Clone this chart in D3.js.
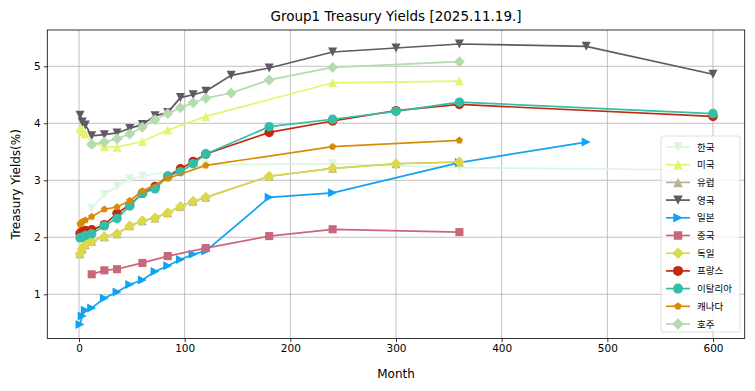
<!DOCTYPE html>
<html><head><meta charset="utf-8">
<script src="https://cdn.jsdelivr.net/npm/d3@7"></script>
<style>body{margin:0;background:#fff}svg{display:block}</style>
</head><body>
<script>
// ---- data ----
const seriesNames = ["한국","미국","유럽","영국","일본","중국","독일","프랑스","이탈리아","캐나다","호주"];
const krMonths = [12,24,36,48,60,120,240,360,600];
const krYields = [2.51,2.75,2.89,3.02,3.07,3.27,3.29,3.22,3.18];
const usMonths = [1,2,3,4,6,12,24,36,60,84,120,240,360];
const usYields = [3.92,3.90,3.88,3.85,3.81,3.66,3.59,3.58,3.68,3.88,4.12,4.71,4.74];
const euMonths = [1,3,6,12,24,36,48,60,72,84,96,108,120,180,240,300,360];
const euYields = [1.71,1.80,1.87,1.93,2.01,2.06,2.20,2.29,2.34,2.43,2.54,2.63,2.70,3.07,3.21,3.29,3.32];
const ukMonths = [1,3,6,12,24,36,48,60,72,84,96,108,120,144,180,240,300,360,480,600];
const ukYields = [4.14,4.02,3.97,3.78,3.80,3.83,3.91,3.98,4.13,4.19,4.45,4.50,4.56,4.84,4.97,5.25,5.32,5.39,5.35,4.86];
const jpMonths = [1,3,6,12,24,36,48,60,72,84,96,108,120,180,240,360,480];
const jpYields = [0.47,0.62,0.72,0.76,0.93,1.04,1.17,1.25,1.40,1.50,1.61,1.70,1.76,2.70,2.78,3.31,3.67];
const cnMonths = [12,24,36,60,84,120,180,240,360];
const cnYields = [1.35,1.42,1.44,1.55,1.67,1.81,2.02,2.14,2.09];
const deMonths = [1,3,6,12,24,36,48,60,72,84,96,108,120,180,240,300,360];
const deYields = [1.71,1.80,1.87,1.93,2.01,2.06,2.20,2.29,2.34,2.43,2.54,2.63,2.70,3.07,3.21,3.29,3.32];
const frMonths = [1,3,6,12,24,36,48,60,72,84,96,108,120,180,240,300,360,600];
const frYields = [2.07,2.10,2.12,2.13,2.22,2.42,2.57,2.77,2.89,3.07,3.20,3.33,3.46,3.84,4.04,4.22,4.33,4.12];
const itMonths = [1,3,6,12,24,36,48,60,72,84,96,108,120,180,240,300,360,600];
const itYields = [1.99,2.00,2.03,2.06,2.20,2.33,2.55,2.77,2.85,3.07,3.15,3.29,3.46,3.94,4.07,4.21,4.37,4.17];
const caMonths = [1,2,3,6,12,24,36,48,60,84,120,240,360];
const caYields = [2.23,2.25,2.27,2.30,2.36,2.49,2.53,2.64,2.81,3.03,3.26,3.59,3.70];
const auMonths = [12,24,36,48,60,72,84,96,108,120,144,180,240,360];
const auYields = [3.63,3.67,3.73,3.81,3.93,4.06,4.17,4.27,4.36,4.44,4.53,4.76,4.98,5.08];
const xTicks = [0,100,200,300,400,500,600];
const yTicks = [1,2,3,4,5];
const titleText = "Group1 Treasury Yields [2025.11.19.]";

const seriesMonths = [krMonths,usMonths,euMonths,ukMonths,jpMonths,cnMonths,deMonths,frMonths,itMonths,caMonths,auMonths];
const seriesYields = [krYields,usYields,euYields,ukYields,jpYields,cnYields,deYields,frYields,itYields,caYields,auYields];

// ---- styles ----
const colors = ["#dcf6e0","#e1f56f","#b9b296","#5e5962","#12a2f2","#c9667a","#dbd84b","#c22a10","#33bea6","#d98b08","#b4dbb0"];
const markers = ["tdown","tup","tup","tdown","tright","square","diamond","circle","circle","pentagon","diamond"];
const msize = [9,9,9,9,9,9,11,9.5,9.5,7.5,11];

const W=755,H=391;
const pLeft=47.3,pRight=744.7,pTop=30,pBottom=338.5;
const x=d3.scaleLinear().domain([-30,630]).range([pLeft,pRight]);
const y=d3.scaleLinear().domain([0.224,5.636]).range([pBottom,pTop]);

const svg=d3.select("body").append("svg").attr("width",W).attr("height",H);
const font="DejaVu Sans, sans-serif";

function markerPath(type,s){
  const r=s/2;
  switch(type){
    case "circle": {const p=d3.path();p.arc(0,0,r,0,2*Math.PI);return p.toString();}
    case "square": return `M${-r*0.9},${-r*0.9}H${r*0.9}V${r*0.9}H${-r*0.9}Z`;
    case "diamond": return `M0,${-r}L${r},0L0,${r}L${-r},0Z`;
    case "tup": return `M0,${-r}L${r},${r}L${-r},${r}Z`;
    case "tdown": return `M0,${r}L${r},${-r}L${-r},${-r}Z`;
    case "tright": return `M${r},0L${-r},${r}L${-r},${-r}Z`;
    case "pentagon": {
      let pts=[];for(let i=0;i<5;i++){const a=-Math.PI/2+i*2*Math.PI/5;pts.push([r*Math.cos(a),r*Math.sin(a)]);}
      return "M"+pts.map(p=>p.join(",")).join("L")+"Z";
    }
  }
}

// grid
const g=svg.append("g");
g.append("g").selectAll("line").data(xTicks).join("line")
  .attr("x1",d=>x(d)).attr("x2",d=>x(d)).attr("y1",pTop).attr("y2",pBottom)
  .attr("stroke","#b0b0b0").attr("stroke-width",0.8);
g.append("g").selectAll("line").data(yTicks).join("line")
  .attr("y1",d=>y(d)).attr("y2",d=>y(d)).attr("x1",pLeft).attr("x2",pRight)
  .attr("stroke","#b0b0b0").attr("stroke-width",0.8);

// series
const plot=svg.append("g");
const line=d3.line().x(d=>x(d[0])).y(d=>y(d[1]));
seriesNames.forEach((name,i)=>{
  const pts=seriesMonths[i].map((m,j)=>[m,seriesYields[i][j]]);
  const sg=plot.append("g");
  sg.append("path").attr("d",line(pts)).attr("fill","none").attr("stroke",colors[i]).attr("stroke-width",1.7);
  sg.selectAll("path.m").data(pts).join("path").attr("class","m")
    .attr("transform",d=>`translate(${x(d[0])},${y(d[1])})`)
    .attr("d",markerPath(markers[i],msize[i])).attr("fill",colors[i]);
});

// axes
const xAxis=svg.append("g").attr("transform",`translate(0,${pBottom})`)
  .call(d3.axisBottom(x).tickValues(xTicks).tickSize(3.5).tickPadding(3).tickFormat(d3.format("d")));
const yAxis=svg.append("g").attr("transform",`translate(${pLeft},0)`)
  .call(d3.axisLeft(y).tickValues(yTicks).tickSize(3.5).tickPadding(3).tickFormat(d3.format("d")));
[xAxis,yAxis].forEach(a=>{a.select(".domain").remove();a.selectAll("text").attr("font-family",font).attr("font-size",10.5).attr("fill","#000");a.selectAll("line").attr("stroke","#000").attr("stroke-width",0.8);});
svg.append("rect").attr("x",pLeft).attr("y",pTop).attr("width",pRight-pLeft).attr("height",pBottom-pTop)
  .attr("fill","none").attr("stroke","#000").attr("stroke-width",0.8);

// labels
svg.append("text").attr("x",(pLeft+pRight)/2).attr("y",21).attr("text-anchor","middle")
  .attr("font-family",font).attr("font-size",13.5).text(titleText);
svg.append("text").attr("x",(pLeft+pRight)/2).attr("y",378).attr("text-anchor","middle")
  .attr("font-family",font).attr("font-size",12).text("Month");
svg.append("text").attr("transform",`translate(20,${(pTop+pBottom)/2}) rotate(-90)`).attr("text-anchor","middle")
  .attr("font-family",font).attr("font-size",12).text("Treasury Yields(%)");

// legend
const lg=svg.append("g").attr("transform","translate(661,136)");
lg.append("rect").attr("x",0).attr("y",0).attr("width",79).attr("height",196).attr("rx",2)
  .attr("fill","#fff").attr("fill-opacity",0.8).attr("stroke","#d6d6d6").attr("stroke-width",0.8);
seriesNames.forEach((name,i)=>{
  const yy=11+i*17.7;
  lg.append("line").attr("x1",5).attr("x2",29).attr("y1",yy).attr("y2",yy).attr("stroke",colors[i]).attr("stroke-width",1.7);
  lg.append("path").attr("transform",`translate(17,${yy})`).attr("d",markerPath(markers[i],msize[i]*1.05)).attr("fill",colors[i]);
  lg.append("text").attr("x",36).attr("y",yy+3.5).attr("font-family","Noto Sans CJK KR, sans-serif").attr("font-size",9.5).text(name);
});
</script>
</body></html>
